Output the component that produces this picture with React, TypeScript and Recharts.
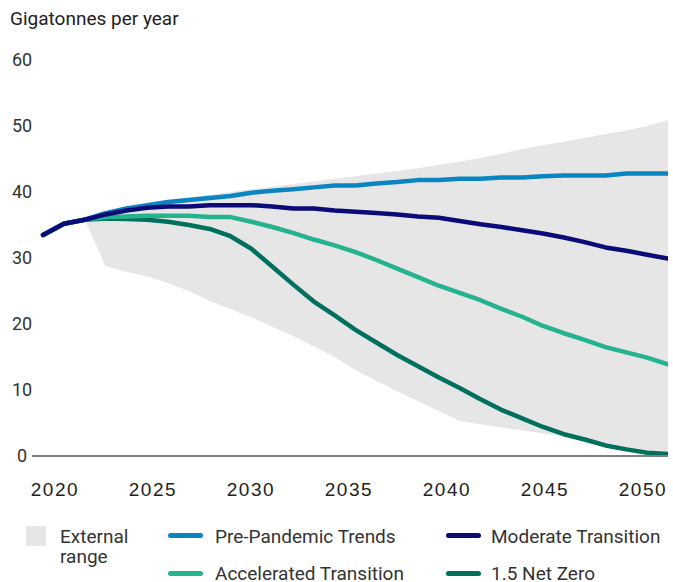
import React from 'react';
import { ComposedChart, Line, Area, XAxis, YAxis } from 'recharts';

const years = [
  2020, 2021, 2022, 2023, 2024, 2025, 2026, 2027, 2028, 2029, 2030,
  2031, 2032, 2033, 2034, 2035, 2036, 2037, 2038, 2039, 2040,
  2041, 2042, 2043, 2044, 2045, 2046, 2047, 2048, 2049, 2050,
];

const prePandemic = [
  33.5, 35.2, 35.8, 36.8, 37.5, 38.0, 38.5, 38.8, 39.1, 39.4, 39.9,
  40.2, 40.4, 40.7, 41.0, 41.0, 41.3, 41.5, 41.8, 41.8, 42.0,
  42.0, 42.2, 42.2, 42.4, 42.5, 42.5, 42.5, 42.8, 42.8, 42.8,
];

const moderate = [
  33.5, 35.2, 35.8, 36.6, 37.2, 37.6, 37.8, 37.8, 38.0, 38.0, 38.0,
  37.8, 37.5, 37.5, 37.2, 37.0, 36.8, 36.6, 36.3, 36.1, 35.6,
  35.1, 34.7, 34.2, 33.7, 33.1, 32.4, 31.6, 31.1, 30.5, 29.9,
];

const accelerated = [
  33.5, 35.2, 35.8, 36.2, 36.3, 36.4, 36.4, 36.4, 36.2, 36.2, 35.5,
  34.7, 33.8, 32.8, 31.9, 30.9, 29.7, 28.4, 27.1, 25.8, 24.7,
  23.6, 22.3, 21.1, 19.7, 18.6, 17.6, 16.5, 15.7, 14.9, 13.9,
];

const netZero = [
  33.5, 35.2, 35.8, 36.0, 35.9, 35.8, 35.5, 35.0, 34.4, 33.3, 31.4,
  28.7, 26.0, 23.4, 21.3, 19.1, 17.2, 15.3, 13.6, 11.9, 10.3,
  8.6, 7.0, 5.7, 4.4, 3.3, 2.5, 1.6, 1.0, 0.5, 0.3,
];

// external range, starts in 2022
const rangeLow = [
  null, null, 35.8, 28.8, 27.9, 27.2, 26.2, 25.0, 23.5, 22.3, 21.0,
  19.6, 18.2, 16.6, 15.0, 13.0, 11.4, 9.8, 8.3, 6.8, 5.3,
  4.8, 4.3, 3.9, 3.4, 3.0, 2.5, 1.7, 1.1, 0.5, 0.2,
];
const rangeHigh = [
  null, null, 35.8, 37.0, 37.7, 38.3, 38.8, 39.2, 39.6, 40.0, 40.4,
  40.8, 41.2, 41.6, 42.0, 42.4, 42.8, 43.2, 43.6, 44.1, 44.6,
  45.2, 45.8, 46.5, 47.1, 47.6, 48.2, 48.8, 49.3, 50.0, 50.9,
];

const yTicks = [0, 10, 20, 30, 40, 50, 60];
const xTicks = [2020, 2025, 2030, 2035, 2040, 2045, 2050];

const series = [
  { key: 'netZero', name: '1.5 Net Zero', color: '#00705e' },
  { key: 'accelerated', name: 'Accelerated Transition', color: '#25b38f' },
  { key: 'prePandemic', name: 'Pre-Pandemic Trends', color: '#0b85c1' },
  { key: 'moderate', name: 'Moderate Transition', color: '#0a0a78' },
];

const data = years.map((year, i) => ({
  year,
  prePandemic: prePandemic[i],
  moderate: moderate[i],
  accelerated: accelerated[i],
  netZero: netZero[i],
  range: rangeLow[i] == null ? null : [rangeLow[i], rangeHigh[i]],
}));

const font = 'Roboto, "Liberation Sans", sans-serif';
const numFont = '"Liberation Sans", Arial, sans-serif';

const YTick = (props: any) => {
  const { y, payload } = props;
  return (
    <text x={22} y={y} dy="0.36em" textAnchor="middle" fontSize={18} fontFamily={font} fill="#333">
      {payload.value}
    </text>
  );
};

const XTick = (props: any) => {
  const { x, payload } = props;
  return (
    <text x={x} y={496} textAnchor="middle" fontSize={19} fontFamily={numFont} fill="#222" letterSpacing={1.5}>
      {payload.value}
    </text>
  );
};

const legendText: React.CSSProperties = {
  position: 'absolute',
  fontFamily: font,
  fontSize: 19,
  color: '#333',
  lineHeight: '20px',
  whiteSpace: 'nowrap',
};

const Swatch = ({ left, top, color }: { left: number; top: number; color: string }) => (
  <div style={{ position: 'absolute', left, top, width: 35, height: 5, borderRadius: 3, background: color }} />
);

export default function App() {
  const byKey = Object.fromEntries(series.map((s) => [s.key, s]));
  return (
    <div style={{ position: 'absolute', left: 0, top: 0, width: 673, height: 582, background: '#fff' }}>
      <div style={{ ...legendText, left: 10, top: 9, color: '#222' }}>Gigatonnes per year</div>
      <ComposedChart width={673} height={582} data={data} margin={{ top: 60, right: 5, bottom: 0, left: 0 }}>
        <XAxis xAxisId="data" dataKey="year" type="number" domain={[2019.47, 2050]} allowDataOverflow height={0} hide />
        {/* tick labels sit on a slightly different spacing than the data points in the original */}
        <XAxis
          xAxisId="labels"
          dataKey="year"
          type="number"
          domain={[2018.83, 2051.28]}
          ticks={xTicks}
          allowDataOverflow
          height={126}
          tickLine={false}
          axisLine={{ stroke: '#808080', strokeWidth: 2 }}
          tick={<XTick />}
          interval={0}
        />
        <YAxis domain={[0, 60]} ticks={yTicks} width={32} axisLine={false} tickLine={false} tick={<YTick />} interval={0} />
        <Area
          xAxisId="data"
          dataKey="range"
          fill="#e6e6e6"
          fillOpacity={1}
          stroke="none"
          isAnimationActive={false}
        />
        <Line xAxisId="labels" dataKey="netZero" stroke="none" dot={false} legendType="none" isAnimationActive={false} />
        {series.map((s) => (
          <Line
            key={s.key}
            xAxisId="data"
            dataKey={s.key}
            name={s.name}
            stroke={s.color}
            strokeWidth={4.5}
            strokeLinecap="round"
            strokeLinejoin="round"
            dot={false}
            type="linear"
            isAnimationActive={false}
          />
        ))}
      </ComposedChart>
      <div style={{ position: 'absolute', left: 26, top: 526, width: 20, height: 20, background: '#e6e6e6' }} />
      <div style={{ ...legendText, left: 60, top: 527 }}>External<br />range</div>
      <Swatch left={168} top={533} color={byKey.prePandemic.color} />
      <div style={{ ...legendText, left: 215, top: 527 }}>{byKey.prePandemic.name}</div>
      <Swatch left={446} top={533} color={byKey.moderate.color} />
      <div style={{ ...legendText, left: 491, top: 527 }}>{byKey.moderate.name}</div>
      <Swatch left={168} top={571} color={byKey.accelerated.color} />
      <div style={{ ...legendText, left: 215, top: 564 }}>{byKey.accelerated.name}</div>
      <Swatch left={446} top={571} color={byKey.netZero.color} />
      <div style={{ ...legendText, left: 491, top: 564 }}>{byKey.netZero.name}</div>
    </div>
  );
}
